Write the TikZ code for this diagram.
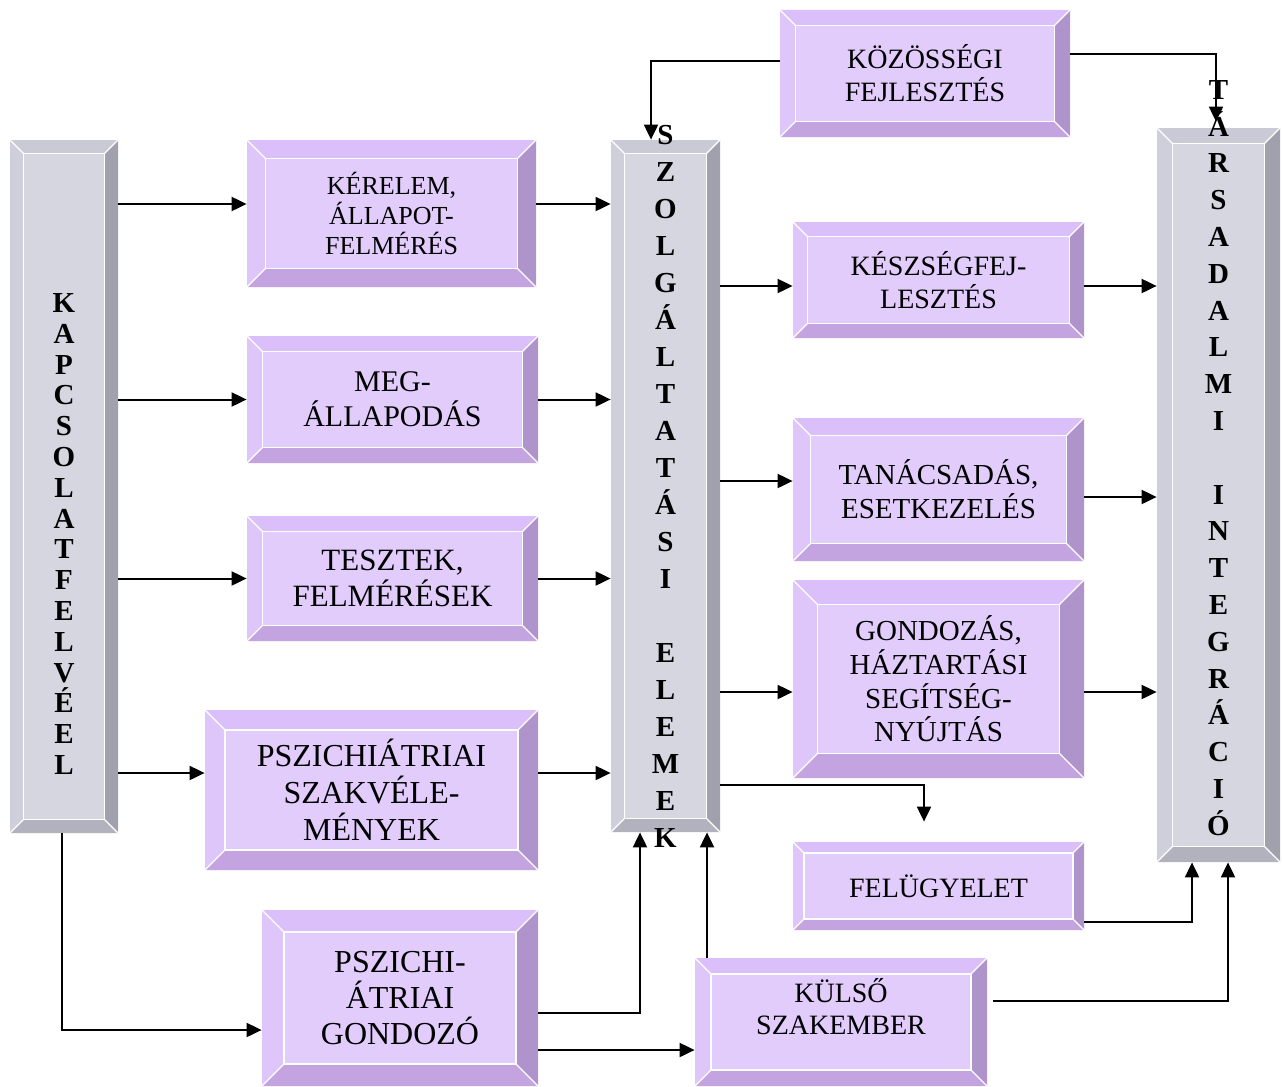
\documentclass[tikz,border=0pt]{standalone}
\usepackage{fontspec}
\setmainfont{Liberation Serif}
\usepackage{tikz}
\usetikzlibrary{
  positioning,
  calc,
  arrows.meta
}

\definecolor{lilacface}{HTML}{E2CCFC}
\definecolor{lilactop}{HTML}{DBBFFA}
\definecolor{lilacleft}{HTML}{DEC6FB}
\definecolor{lilacright}{HTML}{AE94CB}
\definecolor{lilacbottom}{HTML}{C3A3E0}
\definecolor{steelface}{HTML}{D6D6E1}
\definecolor{steeltop}{HTML}{CACAD6}
\definecolor{steelleft}{HTML}{CFCFDB}
\definecolor{steelright}{HTML}{A1A1AD}
\definecolor{steelbottom}{HTML}{B2B2BE}

\tikzset{
  bevel/.style={
    fill=#1face, inner sep=0pt, align=center,
    path picture={
      \pgfpointdiff{\pgfpointanchor{path picture bounding box}{south west}}%
        {\pgfpointanchor{path picture bounding box}{north east}}%
      \pgfgetlastxy{\bbw}{\bbh}%
      \pgfmathsetlengthmacro{\bv}{0.125*min(\bbw,\bbh)}%
      \coordinate (bbnw) at (path picture bounding box.north west);
      \coordinate (bbne) at (path picture bounding box.north east);
      \coordinate (bbsw) at (path picture bounding box.south west);
      \coordinate (bbse) at (path picture bounding box.south east);
      \coordinate (innw) at ([shift={(\bv,-\bv)}]bbnw);
      \coordinate (inne) at ([shift={(-\bv,-\bv)}]bbne);
      \coordinate (insw) at ([shift={(\bv,\bv)}]bbsw);
      \coordinate (inse) at ([shift={(-\bv,\bv)}]bbse);
      \fill[#1top] (bbnw) -- (bbne) -- (inne) -- (innw) -- cycle;
      \fill[#1right] (bbne) -- (bbse) -- (inse) -- (inne) -- cycle;
      \fill[#1bottom] (bbse) -- (bbsw) -- (insw) -- (inse) -- cycle;
      \fill[#1left] (bbsw) -- (bbnw) -- (innw) -- (insw) -- cycle;
      \draw[white, line width=0.6pt] (innw) rectangle (inse);
      \draw[white, line width=0.6pt] (bbnw) -- (innw) (bbne) -- (inne)
        (bbsw) -- (insw) (bbse) -- (inse);
    }},
  sized/.style 2 args={minimum width=#1*0.5pt, minimum height=#2*0.5pt},
  sz/.style 2 args={font=\fontsize{#1}{#2}\selectfont},
  stack/.style={font=\bfseries\fontsize{14.5}{#1}\selectfont, align=center},
  link/.style={line width=1pt, -{Triangle[length=7.5pt,width=7pt]}}
}

\begin{document}
\begin{tikzpicture}[x=0.5pt, y=-0.5pt]
  \useasboundingbox (0,0) rectangle (1283,1086);

  % gray columns
  \node[bevel=steel, sized={108}{693},
    label={[stack=15.4, yshift=-23.75pt]center:{K\\A\\P\\C\\S\\O\\L\\A\\T\\F\\E\\L\\V\\É\\E\\L}}]
    (kapcs) at (64,486.5) {};
  \node[bevel=steel, sized={109}{692},
    label={[stack=18.5]center:{S\\Z\\O\\L\\G\\Á\\L\\T\\A\\T\\Á\\S\\I\\[18.5pt]E\\L\\E\\M\\E\\K}}]
    (szolg) at (665.5,486) {};
  \node[bevel=steel, sized={123}{734},
    label={[stack=18.4, yshift=18.5pt]center:{T\\Á\\R\\S\\A\\D\\A\\L\\M\\I\\[18.4pt]I\\N\\T\\E\\G\\R\\Á\\C\\I\\Ó}}]
    (tarsint) at (1218.5,495) {};

  % boxes on the left
  \node[bevel=lilac, sized={289}{147}, sz={13}{15}] (kerelem) at (391.5,213.5) {KÉRELEM,\\ÁLLAPOT-\\FELMÉRÉS};
  \node[bevel=lilac, sized={291}{127}, sz={15}{17.5}] (megall) at (392.5,399.5) {MEG-\\ÁLLAPODÁS};
  \node[bevel=lilac, sized={291}{125}, sz={15.5}{18}] (tesztek) at (392.5,578.5) {TESZTEK,\\FELMÉRÉSEK};
  \node[bevel=lilac, sized={333}{160}, sz={16}{18.5}] (szakvel) at (371.5,790) {PSZICHIÁTRIAI\\SZAKVÉLE-\\MÉNYEK};
  \node[bevel=lilac, sized={276}{176}, sz={16}{18}] (gondozo) at (400,998) {PSZICHI-\\ÁTRIAI\\GONDOZÓ};

  % boxes on the right
  \node[bevel=lilac, sized={290}{127}, sz={14}{16.5}] (kozossegi) at (925,73.5) {KÖZÖSSÉGI\\FEJLESZTÉS};
  \node[bevel=lilac, sized={291}{116}, sz={14}{16.5}] (keszseg) at (938.5,280) {KÉSZSÉGFEJ-\\LESZTÉS};
  \node[bevel=lilac, sized={291}{143}, sz={14.5}{17}] (tanacs) at (938.5,489.5) {TANÁCSADÁS,\\ESETKEZELÉS};
  \node[bevel=lilac, sized={291}{198}, sz={14.5}{16.8}] (haztart) at (938.5,679) {GONDOZÁS,\\HÁZTARTÁSI\\SEGÍTSÉG-\\NYÚJTÁS};
  \node[bevel=lilac, sized={291}{88}, sz={14}{16}] (felugy) at (938.5,886) {FELÜGYELET};
  \node[bevel=lilac, sized={292}{128}, sz={14}{16}] (kulso) at (841,1022) {KÜLSŐ\\SZAKEMBER\\~};

  % from kapcs
  \draw[link] ([yshift=4.75pt]kerelem.west -| kapcs.east) -- ([yshift=4.75pt]kerelem.west);
  \draw[link] (megall.west -| kapcs.east) -- (megall.west);
  \draw[link] (tesztek.west -| kapcs.east) -- (tesztek.west);
  \draw[link] ([yshift=8.5pt]szakvel.west -| kapcs.east) -- ([yshift=8.5pt]szakvel.west);
  \draw[link] ([xshift=-1pt]kapcs.south) |- ([yshift=-16pt]gondozo.west);

  % into szolg
  \draw[link] ([yshift=4.75pt]kerelem.east) -- ([yshift=4.75pt]kerelem.east -| szolg.west);
  \draw[link] (megall.east) -- (megall.east -| szolg.west);
  \draw[link] (tesztek.east) -- (tesztek.east -| szolg.west);
  \draw[link] ([yshift=8.5pt]szakvel.east) -- ([yshift=8.5pt]szakvel.east -| szolg.west);
  \draw[link] ([yshift=-7.5pt]gondozo.east) -| ([xshift=-12.75pt]szolg.south);
  \draw[link] ([yshift=-26pt]gondozo.east) -- ([yshift=-26pt]gondozo.east -| kulso.west);
  \draw[link] ([xshift=-67pt]kulso.north) -- ([xshift=-67pt]kulso.north |- szolg.south);
  \draw[link] ([yshift=6.25pt]kozossegi.west) -| ([xshift=-7.25pt]szolg.north);

  % out of szolg
  \draw[link] ([yshift=-3pt]keszseg.west -| szolg.east) -- ([yshift=-3pt]keszseg.west);
  \draw[link] ([yshift=4.25pt]tanacs.west -| szolg.east) -- ([yshift=4.25pt]tanacs.west);
  \draw[link] ([yshift=-6.5pt]haztart.west -| szolg.east) -- ([yshift=-6.5pt]haztart.west);
  \draw[link] ([yshift=23.5pt]szolg.south east) -| ([xshift=-7.25pt,yshift=10pt]felugy.north);

  % into tarsint
  \draw[link] ([yshift=-3pt]keszseg.east) -- ([yshift=-3pt]keszseg.east -| tarsint.west);
  \draw[link] ([yshift=-3.75pt]tanacs.east) -- ([yshift=-3.75pt]tanacs.east -| tarsint.west);
  \draw[link] ([yshift=-6.5pt]haztart.east) -- ([yshift=-6.5pt]haztart.east -| tarsint.west);
  \draw[link] ([yshift=-18pt]felugy.east) -| ([xshift=-13.25pt]tarsint.south);
  \draw[link] ([xshift=3pt,yshift=10.5pt]kulso.east) -| ([xshift=4.75pt]tarsint.south);
  \draw[link] ([yshift=9.75pt]kozossegi.east) -| ([xshift=-1.25pt,yshift=3pt]tarsint.north);
\end{tikzpicture}
\end{document}
